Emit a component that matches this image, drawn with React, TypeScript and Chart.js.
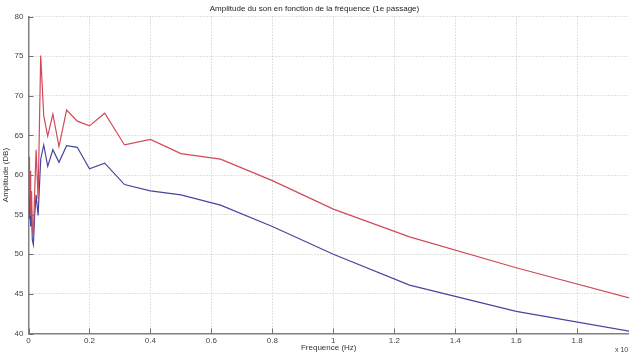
import React, { useEffect, useRef } from "react";
import { Chart, registerables } from "chart.js";

Chart.register(...registerables);

const TITLE = "Amplitude du son en fonction de la fréquence (1e passage)";
const X_TITLE = "Frequence (Hz)";
const Y_TITLE = "Amplitude (DB)";
const X_MULTIPLIER = "x 10⁴";

// third-octave band centre frequencies (Hz)
const freqsHz = [
  20, 25, 31.5, 40, 50, 63, 80, 100, 125, 160, 200, 250, 315, 400, 500, 630,
  800, 1000, 1250, 1600, 2000, 2500, 3150, 4000, 5000, 6300, 8000, 10000,
  12500, 16000, 20000,
];

const redValues = [
  57.5, 62.3, 59.0, 61.8, 57.0, 60.5, 55.0, 58.0, 53.0, 52.5, 57.5, 63.2,
  57.0, 75.1, 67.5, 64.9, 67.7, 63.6, 68.2, 66.8, 66.2, 67.8, 63.8, 64.5,
  62.7, 62.0, 59.3, 55.7, 52.2, 48.3, 44.2,
];

const blueValues = [
  54.5, 57.5, 55.0, 58.5, 55.5, 57.8, 53.5, 55.5, 51.8, 51.2, 54.8, 57.5,
  54.9, 62.0, 63.8, 61.1, 63.2, 61.6, 63.7, 63.5, 60.8, 61.5, 58.8, 58.0,
  57.5, 56.2, 53.5, 50.0, 46.1, 42.8, 40.1,
];

const X_MIN = 0;
const X_MAX = 1.97;
const X_STEP = 0.2;
const Y_MIN = 40;
const Y_MAX = 80;
const Y_STEP = 5;

const FONT = "'Liberation Sans', Arial, sans-serif";

export default function App() {
  const ref = useRef<HTMLCanvasElement | null>(null);

  useEffect(() => {
    if (!ref.current) return;
    const toPts = (vals: number[]) =>
      freqsHz.map((f, i) => ({ x: f / 10000, y: vals[i] }));

    const innerTicks = {
      id: "innerTicks",
      afterDatasetsDraw(chart: any) {
        const { ctx, chartArea, scales } = chart;
        ctx.save();
        ctx.strokeStyle = "#707070";
        ctx.lineWidth = 1;
        ctx.beginPath();
        scales.x.ticks.forEach((t: any) => {
          const px = Math.round(scales.x.getPixelForValue(t.value)) + 0.5;
          ctx.moveTo(px, chartArea.bottom);
          ctx.lineTo(px, chartArea.bottom - 5);
        });
        scales.y.ticks.forEach((t: any) => {
          const py = Math.round(scales.y.getPixelForValue(t.value)) + 0.5;
          ctx.moveTo(chartArea.left, py);
          ctx.lineTo(chartArea.left + 5, py);
        });
        ctx.stroke();
        ctx.fillStyle = "#444";
        ctx.font = `7px ${FONT}`;
        ctx.textBaseline = "middle";
        ctx.fillText(X_MULTIPLIER, 615, 350);
        ctx.restore();
      },
    };

    const chart = new Chart(ref.current, {
      type: "line",
      data: {
        datasets: [
          {
            data: toPts(redValues),
            borderColor: "#d04a58",
            borderWidth: 1.2,
            pointRadius: 0,
            tension: 0,
          },
          {
            data: toPts(blueValues),
            borderColor: "#4646a0",
            borderWidth: 1.2,
            pointRadius: 0,
            tension: 0,
          },
        ],
      },
      options: {
        responsive: false,
        animation: false,
        devicePixelRatio: 1,
        layout: { padding: { left: 0, right: 0, top: 0, bottom: 0 } },
        plugins: {
          legend: { display: false },
          tooltip: { enabled: false },
          title: {
            display: true,
            text: TITLE,
            color: "#222",
            font: { family: FONT, size: 8, weight: "normal" },
            padding: { top: 4, bottom: 3 },
          },
        },
        scales: {
          x: {
            type: "linear",
            min: X_MIN,
            max: X_MAX,
            afterFit: (s: any) => {
              s.height = 21.5;
            },
            ticks: {
              stepSize: X_STEP,
              includeBounds: false,
              color: "#444",
              font: { family: FONT, size: 8 },
              padding: 2,
              maxRotation: 0,
              autoSkip: false,
              callback: (v: any) => String(Number(Number(v).toFixed(2))),
            },
            grid: {
              color: "#c4c4c4",
              lineWidth: 1,
              drawTicks: false,
            },
            border: { display: true, color: "#808080", width: 1.5, dash: [1, 2] },
            title: {
              display: true,
              text: X_TITLE,
              color: "#333",
              font: { family: FONT, size: 8 },
              padding: { top: 0, bottom: 2 },
            },
          },
          y: {
            type: "linear",
            min: Y_MIN,
            max: Y_MAX,
            afterFit: (s: any) => {
              s.width = 28.5;
            },
            ticks: {
              stepSize: Y_STEP,
              color: "#444",
              font: { family: FONT, size: 8 },
              padding: 5,
            },
            grid: {
              color: "#c4c4c4",
              lineWidth: 1,
              drawTicks: false,
            },
            border: { display: true, color: "#808080", width: 1.5, dash: [1, 2] },
            title: {
              display: true,
              text: Y_TITLE,
              color: "#333",
              font: { family: FONT, size: 8 },
              padding: { top: 1, bottom: 0 },
            },
          },
        },
      },
      plugins: [innerTicks],
    } as any);

    return () => chart.destroy();
  }, []);

  return (
    <div style={{ position: "fixed", left: 0, top: 0, width: 629, height: 355, background: "#fff" }}>
      <canvas ref={ref} width={629} height={355} style={{ width: 629, height: 355, display: "block" }} />
    </div>
  );
}
